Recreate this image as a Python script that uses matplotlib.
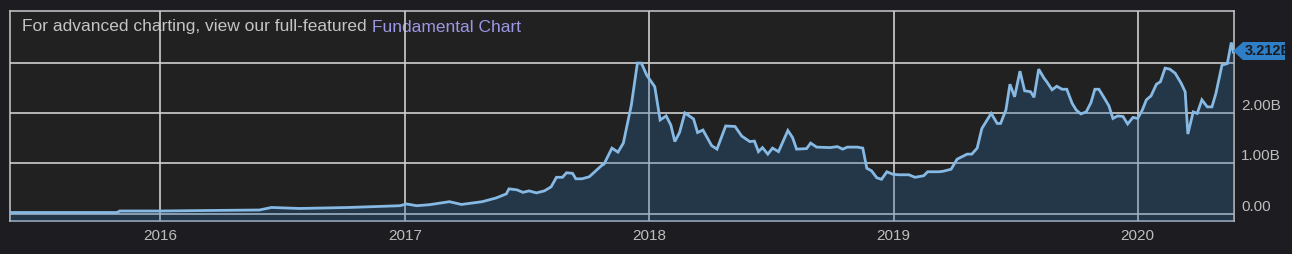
import pandas as pd
import numpy as np
import matplotlib
matplotlib.use('Agg')
import matplotlib.pyplot as plt
import matplotlib.dates as mdates
from matplotlib.patches import Polygon

# Data (billions)
dates = [
    '2015-05-21', '2015-10-28', '2015-11-01', '2015-12-31', '2016-05-28', '2016-06-15',
    '2016-07-27', '2016-10-09', '2016-12-24', '2017-01-03', '2017-01-18', '2017-02-06',
    '2017-03-08', '2017-03-26', '2017-04-26', '2017-05-17', '2017-06-01', '2017-06-05',
    '2017-06-17', '2017-06-26', '2017-07-05', '2017-07-16', '2017-07-28', '2017-08-07',
    '2017-08-15', '2017-08-24', '2017-08-30', '2017-09-08', '2017-09-13', '2017-09-22',
    '2017-10-03', '2017-10-22', '2017-10-25', '2017-11-06', '2017-11-15', '2017-11-23',
    '2017-12-05', '2017-12-14', '2017-12-20', '2017-12-28', '2018-01-09', '2018-01-17',
    '2018-01-26', '2018-02-02', '2018-02-08', '2018-02-15', '2018-02-23', '2018-03-08',
    '2018-03-14', '2018-03-22', '2018-04-04', '2018-04-12', '2018-04-25', '2018-05-09',
    '2018-05-19', '2018-05-31', '2018-06-07', '2018-06-13', '2018-06-19', '2018-06-27',
    '2018-07-04', '2018-07-13', '2018-07-27', '2018-08-03', '2018-08-09', '2018-08-24',
    '2018-08-30', '2018-09-08', '2018-09-28', '2018-10-09', '2018-10-17', '2018-10-24',
    '2018-11-08', '2018-11-16', '2018-11-22', '2018-11-29', '2018-12-07', '2018-12-14',
    '2018-12-22', '2018-12-31', '2019-01-09', '2019-01-24', '2019-02-02', '2019-02-15',
    '2019-02-21', '2019-03-10', '2019-03-16', '2019-03-28', '2019-04-06', '2019-04-21',
    '2019-04-28', '2019-05-06', '2019-05-13', '2019-05-27', '2019-06-05', '2019-06-10',
    '2019-06-18', '2019-06-24', '2019-07-01', '2019-07-09', '2019-07-16', '2019-07-25',
    '2019-07-30', '2019-08-06', '2019-08-14', '2019-08-18', '2019-08-26', '2019-09-02',
    '2019-09-10', '2019-09-17', '2019-09-25', '2019-10-01', '2019-10-08', '2019-10-16',
    '2019-10-23', '2019-10-29', '2019-11-04', '2019-11-11', '2019-11-19', '2019-11-25',
    '2019-12-02', '2019-12-10', '2019-12-17', '2019-12-25', '2020-01-01', '2020-01-08',
    '2020-01-14', '2020-01-21', '2020-01-29', '2020-02-04', '2020-02-11', '2020-02-18',
    '2020-02-26', '2020-03-06', '2020-03-12', '2020-03-16', '2020-03-24', '2020-03-30',
    '2020-04-06', '2020-04-14', '2020-04-21', '2020-04-27', '2020-05-06', '2020-05-14',
    '2020-05-20', '2020-05-23',
]
values = [
    0.02, 0.02, 0.05, 0.05, 0.07, 0.12,
    0.10, 0.12, 0.155, 0.19, 0.155, 0.175,
    0.235, 0.18, 0.235, 0.31, 0.39, 0.49,
    0.47, 0.42, 0.45, 0.41, 0.45, 0.53,
    0.72, 0.72, 0.81, 0.80, 0.69, 0.69,
    0.73, 0.96, 0.98, 1.30, 1.22, 1.40,
    2.16, 2.99, 2.99, 2.75, 2.52, 1.86,
    1.94, 1.76, 1.43, 1.61, 2.00, 1.88,
    1.61, 1.66, 1.35, 1.28, 1.74, 1.73,
    1.54, 1.43, 1.44, 1.23, 1.31, 1.18,
    1.30, 1.23, 1.65, 1.51, 1.28, 1.29,
    1.40, 1.32, 1.31, 1.33, 1.28, 1.32,
    1.32, 1.30, 0.90, 0.85, 0.71, 0.68,
    0.83, 0.78, 0.77, 0.77, 0.72, 0.75,
    0.83, 0.83, 0.84, 0.88, 1.08, 1.18,
    1.18, 1.30, 1.69, 1.99, 1.79, 1.79,
    2.06, 2.57, 2.32, 2.83, 2.44, 2.42,
    2.31, 2.87, 2.69, 2.62, 2.46, 2.53,
    2.47, 2.47, 2.19, 2.06, 1.98, 2.02,
    2.20, 2.47, 2.47, 2.32, 2.14, 1.89,
    1.94, 1.93, 1.78, 1.91, 1.89, 2.06,
    2.26, 2.34, 2.57, 2.62, 2.89, 2.87,
    2.79, 2.59, 2.42, 1.58, 2.02, 1.99,
    2.26, 2.12, 2.12, 2.39, 2.95, 2.98,
    3.40, 3.212,
]
y_ticks = [0, 1, 2, 3]
y_labels = ['0.00', '1.00B', '2.00B', '']
x_years = ['2016', '2017', '2018', '2019', '2020']
last_label = '3.212B'

x = pd.to_datetime(dates)
y = np.array(values)

W, H = 1292, 254
fig = plt.figure(figsize=(W / 100, H / 100), dpi=100, facecolor='#1d1d21')
ax = fig.add_axes([10 / W, 33 / H, 1224 / W, 210 / H])
ax.set_facecolor('#212121')

ax.fill_between(x, y, -1, color='#2b6ca8', alpha=0.3, linewidth=0, zorder=3)
ax.plot(x, y, color='#86b9e3', linewidth=2, zorder=4, solid_joinstyle='miter')

ax.set_xlim(pd.Timestamp('2015-05-21'), pd.Timestamp('2020-05-24'))
ax.set_ylim(-0.149, 4.026)

ax.set_xticks(pd.to_datetime([y + '-01-01' for y in x_years]))
ax.xaxis.set_major_formatter(mdates.DateFormatter('%Y'))
ax.set_yticks(y_ticks)
ax.set_yticklabels(y_labels)
ax.yaxis.tick_right()
for lab in ax.get_yticklabels():
    lab.set_verticalalignment('bottom')
ax.tick_params(axis='both', length=0, colors='#bdbdbd', labelsize=11)
ax.tick_params(axis='x', pad=6)
ax.tick_params(axis='y', pad=5)
for lab in ax.get_xticklabels() + ax.get_yticklabels():
    lab.set_fontfamily('Liberation Sans')

ax.set_axisbelow(False)
ax.grid(True, color='#cfcfcf', linewidth=1.2, zorder=2.5)
for s in ax.spines.values():
    s.set_color('#bdbdbd')
    s.set_linewidth(1.2)

# header text
t1 = ax.text(12 / 1224, 1 - 16 / 210, 'For advanced charting, view our full-featured ',
             transform=ax.transAxes, color='#c4c4c4', fontsize=12.5,
             family='Liberation Sans', va='center', ha='left', zorder=1)
ax.annotate('Fundamental Chart', xy=(1, 0), xycoords=t1, va='bottom', ha='left',
            color='#9b97e6', fontsize=12.5, family='Liberation Sans', zorder=1)

# last value callout
px = lambda xx, yy: (xx / W, 1 - yy / H)
poly = Polygon([px(1233, 51), px(1243, 42), px(1285, 42), px(1285, 60), px(1243, 60)],
               closed=True, transform=fig.transFigure, facecolor='#2f7fc6',
               edgecolor='none')
fig.patches.append(poly)
txt = fig.text(1245 / W, 1 - 51 / H, last_label, color='#1b1b1f', fontsize=10.5,
               fontweight='bold', family='Liberation Sans', va='center', ha='left')
txt.set_clip_path(poly)

fig.savefig('out.png', dpi=100, facecolor=fig.get_facecolor())
